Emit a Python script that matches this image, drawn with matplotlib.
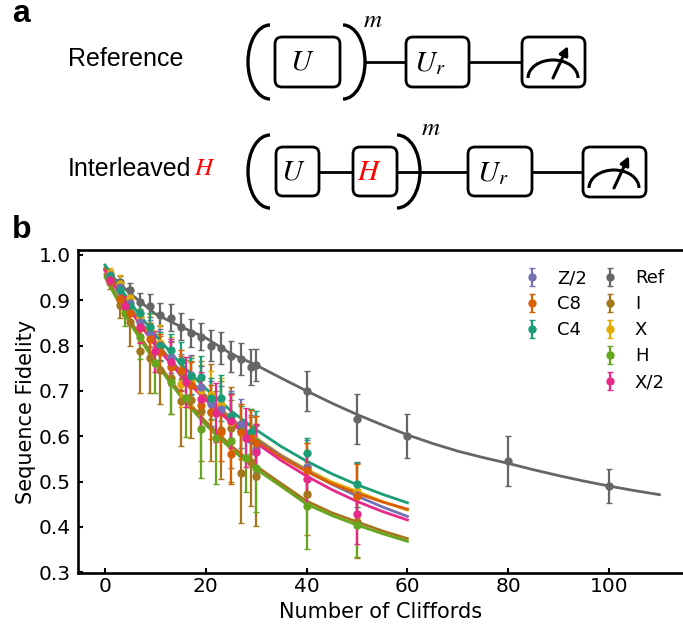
import numpy as np
import matplotlib
matplotlib.use('Agg')
import matplotlib.pyplot as plt
from matplotlib.patches import FancyBboxPatch, Arc

W, H_px = 683, 628

# fit curves
fit_x = [0, 5, 10, 15, 20, 25, 30, 35, 40, 45, 50, 55, 60]
fit_C4 = [.978, .895, .823, .760, .705, .656, .614, .577, .545, .517, .493, .472, .453]
fit_C8 = [.968, .880, .804, .739, .685, .635, .590, .553, .522, .495, .474, .455, .439]
fit_Z2 = [.970, .884, .808, .743, .689, .638, .594, .556, .524, .494, .468, .444, .423]
fit_X = [.972, .884, .808, .743, .689, .640, .596, .558, .527, .499, .478, .456, .437]
fit_X2 = [.965, .877, .800, .735, .680, .630, .585, .546, .512, .482, .456, .434, .415]
fit_I = [.957, .855, .768, .694, .632, .579, .534, .495, .457, .431, .411, .391, .374]
fit_H = [.951, .849, .762, .688, .625, .572, .527, .489, .450, .425, .404, .385, .368]
fit_ref_x = [0, 5, 10, 15, 20, 25, 30, 35, 40, 45, 50, 55, 60, 65, 70, 75, 80, 85, 90, 95, 100, 105, 110]
fit_ref = [.968, .915, .870, .842, .817, .782, .757, .728, .700, .673, .648, .625, .603, .584, .567, .553, .540, .526, .513, .501, .490, .480, .471]

# measured points
x_odd = [1, 3, 5, 7, 9, 11, 13, 15, 17, 19, 21, 23, 25, 27, 29, 30, 40, 50]
x_step3 = [1, 4, 7, 10, 13, 16, 19, 22, 25, 28, 30, 40, 50]
x_ref = [1, 3, 5, 7, 9, 11, 13, 15, 17, 19, 21, 23, 25, 27, 29, 30, 40, 50, 60, 80, 100]

y_ref = [.954, .941, .923, .896, .888, .868, .862, .842, .828, .820, .800, .795, .776, .770, .753, .757, .700, .638, .600, .545, .490]
e_ref = [.013, .013, .015, .020, .025, .025, .030, .030, .030, .030, .035, .035, .035, .035, .040, .035, .045, .055, .048, .055, .037]
y_I = [.940, .890, .853, .788, .773, .746, .728, .678, .681, .656, .653, .614, .619, .519, .544, .512, .472, .411]
e_I = [.015, .030, .053, .092, .077, .075, .080, .100, .084, .110, .107, .108, .090, .110, .098, .110, .090, .080]
y_H = [.950, .873, .820, .761, .720, .684, .615, .597, .589, .551, .529, .446, .404]
e_H = [.015, .030, .050, .065, .070, .085, .108, .103, .090, .074, .096, .096, .070]
y_X = [.960, .937, .904, .864, .834, .805, .774, .715, .722, .702, .690, .669, .632, .610, .600, .590, .531, .480]
e_X = [.012, .018, .025, .030, .035, .040, .045, .050, .055, .055, .055, .060, .060, .060, .060, .055, .055, .060]
y_Z2 = [.956, .930, .893, .851, .827, .801, .775, .742, .735, .709, .672, .661, .645, .628, .592, .571, .531, .470]
e_Z2 = [.010, .015, .020, .025, .030, .035, .035, .040, .045, .045, .050, .050, .055, .055, .055, .055, .060, .070]
y_C4 = [.954, .923, .888, .873, .842, .799, .790, .767, .733, .731, .684, .684, .645, .612, .610, .588, .562, .494]
e_C4 = [.010, .015, .020, .025, .030, .030, .035, .040, .040, .045, .045, .050, .050, .055, .050, .068, .035, .050]
y_C8 = [.945, .902, .871, .838, .814, .786, .753, .745, .713, .669, .654, .610, .561, .610, .597, .585, .525, .469]
e_C8 = [.012, .018, .022, .030, .035, .040, .040, .045, .050, .055, .060, .065, .066, .060, .060, .060, .060, .070]
y_X2 = [.945, .887, .840, .787, .764, .720, .682, .652, .634, .597, .566, .505, .428]
e_X2 = [.012, .022, .035, .045, .050, .055, .060, .065, .060, .065, .060, .060, .065]

col_ref = '#666666'
col_I = '#a6761d'
col_H = '#66a61e'
col_X = '#e6ab02'
col_Z2 = '#7570b3'
col_C4 = '#1b9e77'
col_C8 = '#d95f02'
col_X2 = '#e7298a'

plt.rcParams['font.family'] = 'DejaVu Sans'
plt.rcParams['mathtext.fontset'] = 'stix'

fig = plt.figure(figsize=(W / 100, H_px / 100), dpi=100)

# whole figure in pixels, for panel a
bg = fig.add_axes([0, 0, 1, 1])
bg.set_xlim(0, W)
bg.set_ylim(H_px, 0)
bg.axis('off')

sans = 'Liberation Sans'
bg.text(12, 14, 'a', fontsize=23, fontweight='bold', family=sans, ha='left', va='center')
bg.text(12, 230, 'b', fontsize=23, fontweight='bold', family=sans, ha='left', va='center')
bg.text(68, 59, 'Reference', fontsize=18, family=sans, ha='left', va='center')
bg.text(68, 169, 'Interleaved', fontsize=18, family=sans, ha='left', va='center')
bg.text(205, 168, '$H$', fontsize=18, color='red', ha='center', va='center')


def box(x0, x1, y0, y1):
    bg.add_patch(FancyBboxPatch((x0 + 7, y0 + 7), x1 - x0 - 14, y1 - y0 - 14,
                                boxstyle='round,pad=7', fc='white', ec='black', lw=2, zorder=3))


def paren(x0, x1, y0, y1, left=True):
    # a bracket is the part of a wide ellipse
    w = (x1 - x0) * 2
    if left:
        bg.add_patch(Arc((x1, (y0 + y1) / 2), w, y1 - y0, theta1=90, theta2=270, lw=2.4, color='black'))
    else:
        bg.add_patch(Arc((x0, (y0 + y1) / 2), w, y1 - y0, theta1=-90, theta2=90, lw=2.4, color='black'))


def meter(x0, y0):
    box(x0, x0 + 63, y0, y0 + 50)
    bg.add_patch(Arc((x0 + 31, y0 + 41), 50, 36, theta1=180, theta2=360, lw=2.2, color='black', zorder=4))
    bg.annotate('', xy=(x0 + 46, y0 + 9), xytext=(x0 + 31, y0 + 41), zorder=5,
                arrowprops=dict(arrowstyle='-|>', lw=2.2, color='black', mutation_scale=13, shrinkA=0, shrinkB=0))


# top row
bg.plot([365, 522], [61.5, 61.5], color='black', lw=2, zorder=1)
paren(248, 270, 25, 99, True)
paren(343, 365, 25, 99, False)
box(275, 340, 37, 87)
box(406, 469, 37, 87)
meter(522, 37)
bg.text(302, 62, '$U$', fontsize=21, ha='center', va='center', zorder=6)
bg.text(430, 63, '$U_r$', fontsize=21, ha='center', va='center', zorder=6)
bg.text(373, 20, '$m$', fontsize=18, ha='center', va='center')

# bottom row
bg.plot([300, 583], [172, 172], color='black', lw=2, zorder=1)
paren(248, 270, 135, 208, True)
paren(397, 420, 135, 208, False)
box(276, 319, 147, 196)
box(353, 397, 147, 196)
box(468, 532, 147, 196)
meter(583, 147)
bg.text(293, 172, '$U$', fontsize=21, ha='center', va='center', zorder=6)
bg.text(369, 172, '$H$', fontsize=21, color='red', ha='center', va='center', zorder=6)
bg.text(493, 173, '$U_r$', fontsize=21, ha='center', va='center', zorder=6)
bg.text(431, 128, '$m$', fontsize=18, ha='center', va='center')

# panel b
left = 78
ax = fig.add_axes([left / W, 1 - 573 / H_px, (W - left) / W, (573 - 250) / H_px])
ax.patch.set_alpha(0)


def series(x, y, e, fx, fy, col):
    ax.plot(fx, fy, color=col, lw=2)
    return ax.errorbar(x, y, yerr=e, fmt='o', color=col, ms=5, elinewidth=1.6, capsize=2.5, capthick=1)


h_ref = series(x_ref, y_ref, e_ref, fit_ref_x, fit_ref, col_ref)
h_I = series(x_odd, y_I, e_I, fit_x, fit_I, col_I)
h_H = series(x_step3, y_H, e_H, fit_x, fit_H, col_H)
h_X = series(x_odd, y_X, e_X, fit_x, fit_X, col_X)
h_Z2 = series(x_odd, y_Z2, e_Z2, fit_x, fit_Z2, col_Z2)
h_C4 = series(x_odd, y_C4, e_C4, fit_x, fit_C4, col_C4)
h_C8 = series(x_odd, y_C8, e_C8, fit_x, fit_C8, col_C8)
h_X2 = series(x_step3, y_X2, e_X2, fit_x, fit_X2, col_X2)

ax.set_xlim((left - 105) / 5.04, (W - 105) / 5.04)
ax.set_ylim(1 - (573 - 255) / 453, 1 + (255 - 250) / 453)
ax.set_xticks([0, 20, 40, 60, 80, 100])
ax.set_yticks([.3, .4, .5, .6, .7, .8, .9, 1.0])
ax.tick_params(direction='in', width=1.5, length=3.5, labelsize=14.5, pad=5)
ax.tick_params(axis='x', pad=3)
ax.set_xlabel('Number of Cliffords', fontsize=15, labelpad=4)
ax.set_ylabel('Sequence Fidelity', fontsize=15, labelpad=2)
for s in ['top', 'bottom', 'left']:
    ax.spines[s].set_linewidth(1.9)
ax.spines['right'].set_visible(False)

leg1 = ax.legend([h_Z2, h_C8, h_C4], ['Z/2', 'C8', 'C4'], loc='upper left',
                 bbox_to_anchor=((509 - left) / (W - left), 1 - 10 / 323), frameon=False, fontsize=13,
                 labelspacing=0.45, handletextpad=0.55, handlelength=1.6, borderpad=0)
ax.add_artist(leg1)
ax.legend([h_ref, h_I, h_X, h_H, h_X2], ['Ref', 'I', 'X', 'H', 'X/2'], loc='upper left',
          bbox_to_anchor=((587 - left) / (W - left), 1 - 10 / 323), frameon=False, fontsize=13,
          labelspacing=0.45, handletextpad=0.55, handlelength=1.6, borderpad=0)

fig.savefig('out.png', dpi=100)
plt.close()
